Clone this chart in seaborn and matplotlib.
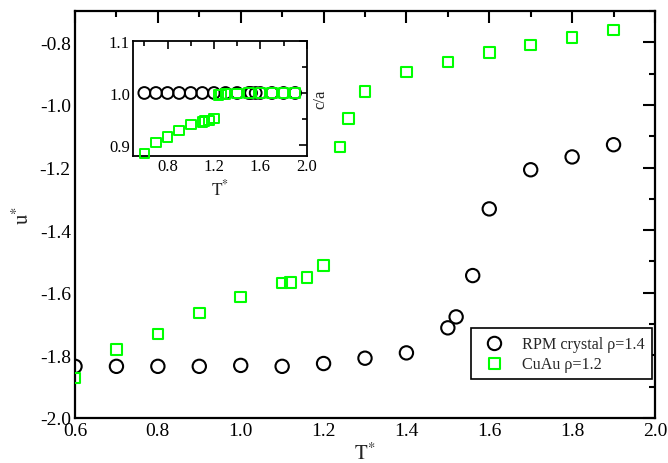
import matplotlib
matplotlib.use("Agg")
import matplotlib.pyplot as plt
from matplotlib.ticker import MultipleLocator, FormatStrFormatter
import seaborn as sns
import numpy as np

# ---- data ----
T_rpm = [0.6, 0.7, 0.8, 0.9, 1.0, 1.1, 1.2, 1.3, 1.4, 1.5, 1.52, 1.56, 1.6, 1.7, 1.8, 1.9]
u_rpm = [-1.835, -1.835, -1.835, -1.835, -1.832, -1.835, -1.826, -1.809, -1.792,
         -1.712, -1.677, -1.545, -1.332, -1.207, -1.166, -1.127]

T_cuau = [0.6, 0.7, 0.8, 0.9, 1.0, 1.1, 1.12, 1.16, 1.2, 1.24, 1.26, 1.3,
          1.4, 1.5, 1.6, 1.7, 1.8, 1.9]
u_cuau = [-1.872, -1.782, -1.731, -1.665, -1.613, -1.569, -1.567, -1.552, -1.513,
          -1.134, -1.044, -0.957, -0.895, -0.863, -0.832, -0.808, -0.784, -0.761]

ca_rpm = [1.0] * len(T_rpm)
ca_cuau = [0.884, 0.905, 0.916, 0.928, 0.940, 0.944, 0.946, 0.947, 0.951,
           0.996, 0.997, 0.998, 0.999, 1.0, 1.0, 1.0, 1.0, 1.0]

label_rpm = "RPM crystal \u03c1=1.4"
label_cuau = "CuAu \u03c1=1.2"

GREEN = "#00ff00"

sns.set_style("white")
plt.rcParams["font.family"] = ["Liberation Serif", "DejaVu Serif"]
plt.rcParams["mathtext.fontset"] = "stix"

fig = plt.figure(figsize=(6.68, 4.64), dpi=100)
ax = fig.add_axes([0.1123, 0.097, 0.8682, 0.877])

sns.scatterplot(x=T_rpm, y=u_rpm, ax=ax, marker="o", s=92, facecolor="none",
                edgecolor="black", linewidth=1.5, label=label_rpm, zorder=3)
sns.scatterplot(x=T_cuau, y=u_cuau, ax=ax, marker="s", s=58, facecolor="none",
                edgecolor=GREEN, linewidth=1.5, label=label_cuau, zorder=3)

ax.set_xlim(0.6, 2.0)
ax.set_ylim(-2.0, -0.7)
ax.xaxis.set_major_locator(MultipleLocator(0.2))
ax.xaxis.set_minor_locator(MultipleLocator(0.1))
ax.yaxis.set_major_locator(MultipleLocator(0.2))
ax.yaxis.set_minor_locator(MultipleLocator(0.1))
ax.xaxis.set_major_formatter(FormatStrFormatter("%.1f"))
ax.yaxis.set_major_formatter(FormatStrFormatter("%.1f"))
ax.tick_params(which="both", direction="in", top=True, right=True, width=1.5,
               colors="black", labelsize=14)
ax.tick_params(which="major", length=8.5, pad=3)
ax.tick_params(which="minor", length=4.5)
for sp in ax.spines.values():
    sp.set_linewidth(1.6)
    sp.set_color("black")
ax.set_xlabel(r"$\mathrm{T}^{*}$", fontsize=15, labelpad=2)
ax.set_ylabel(r"$\mathrm{u}^{*}$", fontsize=15, labelpad=4)

leg = ax.legend(loc="lower right", bbox_to_anchor=(1.0, 0.088), fontsize=11.6,
                frameon=True, fancybox=False, framealpha=1, edgecolor="black",
                borderpad=0.45, handletextpad=0.7, labelspacing=0.25,
                borderaxespad=0.2)
leg.get_frame().set_linewidth(1.2)

# ---- inset ----
axi = fig.add_axes([0.1987, 0.6623, 0.2605, 0.2478])
sns.scatterplot(x=T_rpm, y=ca_rpm, ax=axi, marker="o", s=72, facecolor="none",
                edgecolor="black", linewidth=1.4, zorder=3, legend=False)
sns.scatterplot(x=T_cuau, y=ca_cuau, ax=axi, marker="s", s=48, facecolor="none",
                edgecolor=GREEN, linewidth=1.4, zorder=4, legend=False, clip_on=False)
axi.set_xlim(0.5, 2.0)
axi.set_ylim(0.88, 1.1)
axi.xaxis.set_minor_locator(MultipleLocator(0.2))
axi.set_xticks([0.8, 1.2, 1.6, 2.0])
axi.yaxis.set_major_locator(MultipleLocator(0.1))
axi.yaxis.set_minor_locator(MultipleLocator(0.05))
axi.xaxis.set_major_formatter(FormatStrFormatter("%.1f"))
axi.yaxis.set_major_formatter(FormatStrFormatter("%.1f"))
axi.tick_params(which="both", direction="in", top=True, right=True, width=1.2,
                colors="black", labelsize=12)
axi.tick_params(which="major", length=6, pad=2)
axi.tick_params(which="minor", length=3.5)
for sp in axi.spines.values():
    sp.set_linewidth(1.3)
    sp.set_color("black")
axi.set_xlabel(r"$\mathrm{T}^{*}$", fontsize=12.5, labelpad=3)
axi.yaxis.set_label_position("right")
axi.set_ylabel("c/a", fontsize=12, rotation=90, labelpad=4)

fig.savefig("out.png", dpi=100)
